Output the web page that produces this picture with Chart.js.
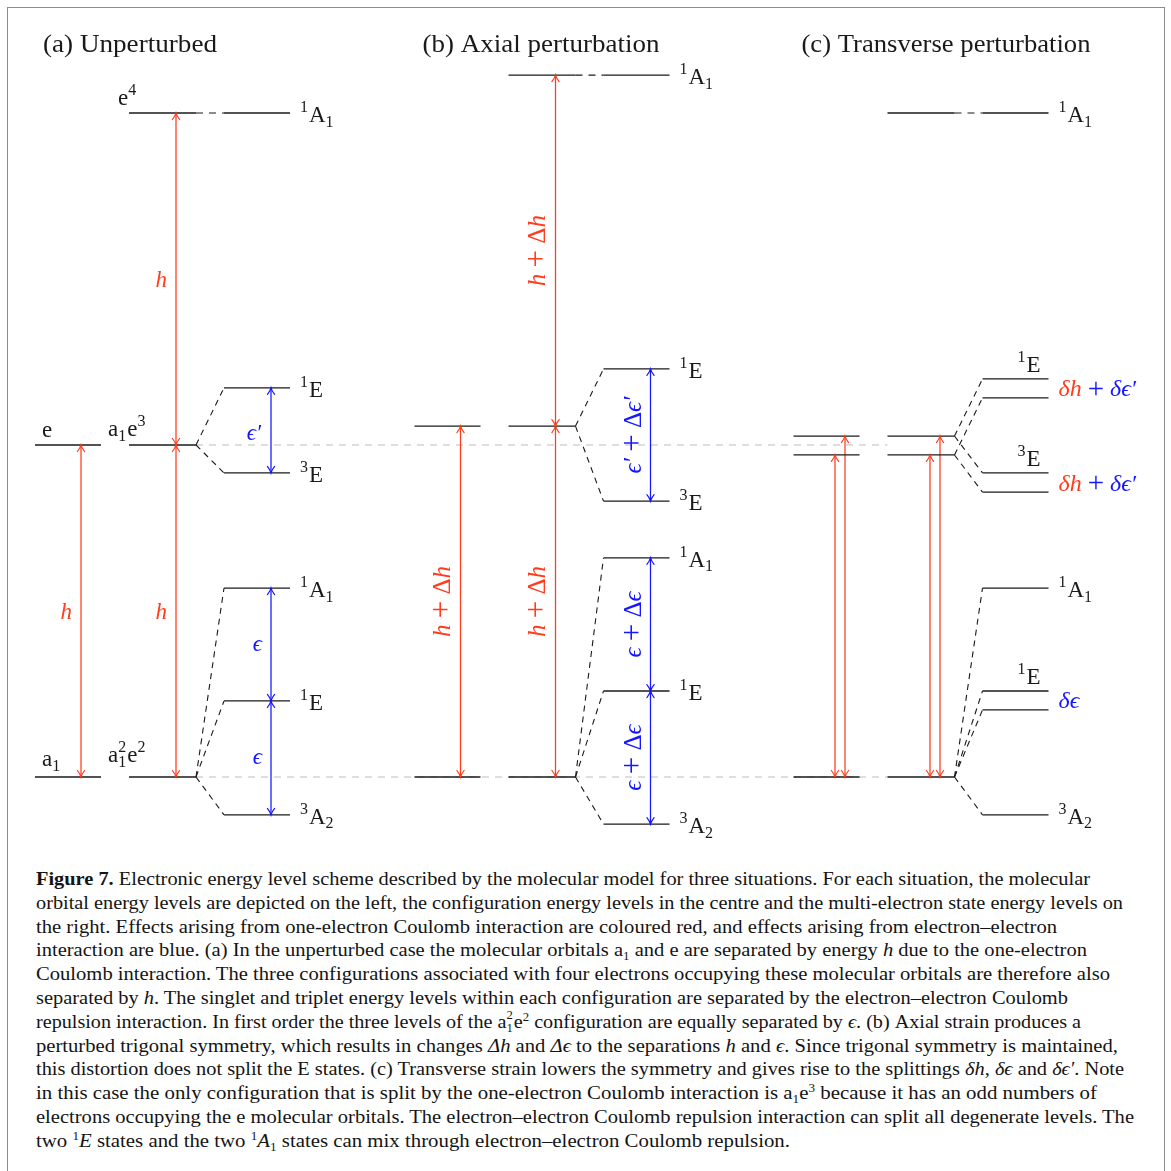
<!DOCTYPE html>
<html><head><meta charset="utf-8">
<script src="https://cdn.jsdelivr.net/npm/chart.js@4.4.1/dist/chart.umd.min.js"></script>
<style>
html,body{margin:0;padding:0;background:#fff;width:1171px;height:1171px;overflow:hidden;}
#frame{position:absolute;left:7px;top:7px;width:1158px;height:1200px;border:1.5px solid #8c8c8c;box-sizing:border-box;}
#c{position:absolute;left:0;top:0;}
#cap{position:absolute;left:36px;top:867px;font-family:'Liberation Serif',serif;font-size:19px;color:#141414;}
.ln{display:block;width:max-content;height:23.8px;line-height:23.8px;white-space:nowrap;transform-origin:0 0;}
.sb{font-size:12px;position:relative;top:4px;line-height:0;}
.sp{font-size:12px;position:relative;top:-7px;line-height:0;}
.ss{display:inline-block;position:relative;width:7px;height:10px;}
.ss .a{position:absolute;left:0;top:-9px;font-size:12px;line-height:12px;}
.ss .b{position:absolute;left:0;top:4px;font-size:12px;line-height:12px;}
</style></head>
<body>
<div id="frame"></div>
<canvas id="c" width="1171" height="860"></canvas>
<div id="cap">
<div class="ln" data-w="1054"><b>Figure 7.</b> Electronic energy level scheme described by the molecular model for three situations. For each situation, the molecular</div>
<div class="ln" data-w="1087">orbital energy levels are depicted on the left, the configuration energy levels in the centre and the multi-electron state energy levels on</div>
<div class="ln" data-w="1021">the right. Effects arising from one-electron Coulomb interaction are coloured red, and effects arising from electron–electron</div>
<div class="ln" data-w="1051">interaction are blue. (a) In the unperturbed case the molecular orbitals a<span class="sb">1</span> and e are separated by energy <i>h</i> due to the one-electron</div>
<div class="ln" data-w="1074">Coulomb interaction. The three configurations associated with four electrons occupying these molecular orbitals are therefore also</div>
<div class="ln" data-w="1032">separated by <i>h</i>. The singlet and triplet energy levels within each configuration are separated by the electron–electron Coulomb</div>
<div class="ln" data-w="1045">repulsion interaction. In first order the three levels of the a<span class="ss"><span class="a">2</span><span class="b">1</span></span>e<span class="sp">2</span> configuration are equally separated by <i>ϵ</i>. (b) Axial strain produces a</div>
<div class="ln" data-w="1082">perturbed trigonal symmetry, which results in changes <i>Δh</i> and <i>Δϵ</i> to the separations <i>h</i> and <i>ϵ</i>. Since trigonal symmetry is maintained,</div>
<div class="ln" data-w="1088">this distortion does not split the E states. (c) Transverse strain lowers the symmetry and gives rise to the splittings <i>δh</i>, <i>δϵ</i> and <i>δϵ′</i>. Note</div>
<div class="ln" data-w="1061">in this case the only configuration that is split by the one-electron Coulomb interaction is a<span class="sb">1</span>e<span class="sp">3</span> because it has an odd numbers of</div>
<div class="ln" data-w="1098">electrons occupying the e molecular orbitals. The electron–electron Coulomb repulsion interaction can split all degenerate levels. The</div>
<div class="ln" data-w="754">two <span class="sp">1</span><i>E</i> states and the two <span class="sp">1</span><i>A</i><span class="sb">1</span> states can mix through electron–electron Coulomb repulsion.</div>
</div>
<script>
// ---------------- data (energies in units of the unperturbed splitting h) ----------------
const panelTitles = ['(a) Unperturbed', '(b) Axial perturbation', '(c) Transverse perturbation'];
const orbitalA = [0, 1];
const orbitalB = [0, 1.057];
const orbitalC = [0, 0.970, 1.027];
const configA = [0, 1, 2];
const configB = [0, 1.057, 2.114];
const configC = [0, 0.970, 1.027, 2.0];
const stateA = [-0.114, 0.229, 0.569, 0.916, 1.172, 2.0];
const stateB = [-0.142, 0.259, 0.660, 0.831, 1.229, 2.114];
const stateC = [-0.114, 0.202, 0.259, 0.569, 0.858, 0.916, 1.142, 1.199, 2.0];
const parentA = [0, 0, 0, 1, 1, 2];
const parentB = [0, 0, 0, 1, 1, 2];
const parentC = [0, 0, 0, 0, 1, 2, 1, 2, 3];
const stateLabelsA = ['^3A_2', '^1E', '^1A_1', '^3E', '^1E', '^1A_1'];
const stateLabelsB = ['^3A_2', '^1E', '^1A_1', '^3E', '^1E', '^1A_1'];
const stateLabelsC = ['^3A_2', '', '', '^1A_1', '', '', '', '', '^1A_1'];
const pairsC = [[1, 2], [4, 5], [6, 7]];
const pairLabelsC = ['^1E', '^3E', '^1E'];
const orbitalLabelsA = ['a_1', 'e'];
const configLabelsA = ['a2e^2', 'a_1e^3', 'e^4'];

// ---------------- styling / layout ----------------
const RED = '#ff3c1c', BLUE = '#1616ff', BLACK = '#1a1a1a', GRAY = '#d4d4d4';
const SERIF = "'Liberation Serif','DejaVu Serif',serif";
const PX = [0, 379.5, 758.5];
const ORB = [35, 101], CFG = [129, 196], ST = [224, 290];
const TITLE_W = [174, 237, 289];

const datasets = [], arrows = [], labels = [];
function seg(x0, y0, x1, y1, color, w, dash, order) {
  datasets.push({data: [{x: x0, y: y0}, {x: x1, y: y1}], borderColor: color, borderWidth: w,
    borderDash: dash || [], showLine: true, pointRadius: 0, pointHoverRadius: 0, fill: false, tension: 0,
    order: order || 0});
}
function arrow(x, a, b, color) { seg(x, a, x, b, color, 1.25); arrows.push({x, a, b, color}); }
function parse(s) {
  const parts = []; let i = 0;
  while (i < s.length) {
    const ch = s[i];
    if (ch === '^' || ch === '_') { parts.push({t: s[i + 1], s: ch === '^' ? 'sup' : 'sub'}); i += 2; }
    else { let j = i; while (j < s.length && s[j] !== '^' && s[j] !== '_') j++; parts.push({t: s.slice(i, j)}); i = j; }
  }
  return parts;
}
function lab(x, y, parts, o) { labels.push(Object.assign({x, y, parts, size: 23, align: 'left', dy: 0, color: BLACK}, o || {})); }
const M = (t, c, it) => ({t, c, i: it});
const PLUS = c => [{t: ' ', c}, {t: '+', c, z: 1.22}, {t: ' ', c}];

// gray reference lines (drawn underneath everything)
[configA[1], configA[0]].forEach(e => seg(PX[0] + CFG[1], e, PX[2] + CFG[0], e, GRAY, 1.3, [7, 6], 10));

function levelsAndConnectors(ox, orbs, cfgs, states, parents) {
  orbs.forEach(e => seg(ox + ORB[0], e, ox + ORB[1], e, BLACK, 1.3));
  cfgs.forEach(e => seg(ox + CFG[0], e, ox + CFG[1], e, BLACK, 1.3));
  states.forEach((s, k) => {
    seg(ox + ST[0], s, ox + ST[1], s, BLACK, 1.3);
    const p = cfgs[parents[k]];
    seg(ox + CFG[1], p, ox + ST[0], s, BLACK, 1.1, Math.abs(p - s) < 1e-6 ? [7, 6] : [6, 5]);
  });
}
// ---- panel (a)
{
  const ox = PX[0];
  levelsAndConnectors(ox, orbitalA, configA, stateA, parentA);
  arrow(ox + 81, orbitalA[0], orbitalA[1], RED);
  arrow(ox + 176, configA[0], configA[1], RED);
  arrow(ox + 176, configA[1], configA[2], RED);
  arrow(ox + 271, stateA[3], stateA[4], BLUE);
  arrow(ox + 271, stateA[0], stateA[1], BLUE);
  arrow(ox + 271, stateA[1], stateA[2], BLUE);
  lab(ox + 72, (orbitalA[0] + orbitalA[1]) / 2, [M('h', RED, 1)], {align: 'right', dy: 8});
  lab(ox + 167, (configA[0] + configA[1]) / 2, [M('h', RED, 1)], {align: 'right', dy: 8});
  lab(ox + 167, (configA[1] + configA[2]) / 2, [M('h', RED, 1)], {align: 'right', dy: 8});
  lab(ox + 261, (stateA[3] + stateA[4]) / 2, [M('ϵ′', BLUE, 1)], {align: 'right', dy: 10});
  lab(ox + 262, (stateA[0] + stateA[1]) / 2, [M('ϵ', BLUE, 1)], {align: 'right', dy: 6});
  lab(ox + 262, (stateA[1] + stateA[2]) / 2, [M('ϵ', BLUE, 1)], {align: 'right', dy: 6});
  lab(ox + 42, orbitalA[0], parse(orbitalLabelsA[0]), {dy: -11});
  lab(ox + 42, orbitalA[1], parse(orbitalLabelsA[1]), {dy: -8});
  lab(ox + 118, configA[2], parse(configLabelsA[2]), {dy: -8});
  lab(ox + 108, configA[1], parse(configLabelsA[1]), {dy: -9});
  lab(ox + 108, configA[0], [{t: 'a'}, {t: '1', t2: '2', s: 'subsup'}, {t: 'e'}, {t: '2', s: 'sup'}], {dy: -15});
  stateA.forEach((s, k) => lab(ox + 300, s, parse(stateLabelsA[k]), {dy: 9}));
}
// ---- panel (b)
{
  const ox = PX[1];
  levelsAndConnectors(ox, orbitalB, configB, stateB, parentB);
  arrow(ox + 81, orbitalB[0], orbitalB[1], RED);
  arrow(ox + 176, configB[0], configB[1], RED);
  arrow(ox + 176, configB[1], configB[2], RED);
  arrow(ox + 271, stateB[3], stateB[4], BLUE);
  arrow(ox + 271, stateB[0], stateB[1], BLUE);
  arrow(ox + 271, stateB[1], stateB[2], BLUE);
  const hd = [M('h', RED, 1), ...PLUS(RED), M('Δ', RED), M('h', RED, 1)];
  const ed = [M('ϵ', BLUE, 1), ...PLUS(BLUE), M('Δ', BLUE), M('ϵ', BLUE, 1)];
  const edp = [M('ϵ′', BLUE, 1), ...PLUS(BLUE), M('Δ', BLUE), M('ϵ′', BLUE, 1)];
  lab(ox + 62, (orbitalB[0] + orbitalB[1]) / 2, hd, {rot: true, size: 25});
  lab(ox + 157, (configB[0] + configB[1]) / 2, hd, {rot: true, size: 25});
  lab(ox + 157, (configB[1] + configB[2]) / 2, hd, {rot: true, size: 25});
  lab(ox + 253, (stateB[3] + stateB[4]) / 2, edp, {rot: true, size: 25});
  lab(ox + 253, (stateB[0] + stateB[1]) / 2, ed, {rot: true, size: 25});
  lab(ox + 253, (stateB[1] + stateB[2]) / 2, ed, {rot: true, size: 25});
  stateB.forEach((s, k) => lab(ox + 300, s, parse(stateLabelsB[k]), {dy: 9}));
}
// ---- panel (c)
{
  const ox = PX[2];
  levelsAndConnectors(ox, orbitalC, configC, stateC, parentC);
  arrow(ox + 76.5, orbitalC[0], orbitalC[1], RED);
  arrow(ox + 86.5, orbitalC[0], orbitalC[2], RED);
  arrow(ox + 171.5, configC[0], configC[1], RED);
  arrow(ox + 181.5, configC[0], configC[2], RED);
  stateC.forEach((s, k) => { if (stateLabelsC[k]) lab(ox + 300, s, parse(stateLabelsC[k]), {dy: 9}); });
  pairsC.forEach((p, k) => lab(ox + 282, stateC[p[1]], parse(pairLabelsC[k]), {align: 'right', dy: -7}));
  const dhe = [M('δh', RED, 1), ...PLUS(BLUE), M('δϵ′', BLUE, 1)];
  lab(ox + 300, (stateC[1] + stateC[2]) / 2, [M('δϵ', BLUE, 1)], {dy: 8, size: 24});
  lab(ox + 300, (stateC[4] + stateC[5]) / 2, dhe, {dy: 8, size: 24});
  lab(ox + 300, (stateC[6] + stateC[7]) / 2, dhe, {dy: 8, size: 24});
}

// ---------------- drawing helpers ----------------
function fontFor(p, size) {
  let sz = (p.s === 'sup' || p.s === 'sub' || p.s === 'subsup') ? Math.round(size * 0.68) : size;
  if (p.z) sz = Math.round(sz * p.z);
  return (p.i ? 'italic ' : '') + sz + 'px ' + SERIF;
}
function partWidth(ctx, p, size) {
  ctx.font = fontFor(p, size);
  let w = ctx.measureText(p.t).width;
  if (p.s === 'subsup') w = Math.max(w, ctx.measureText(p.t2).width);
  return w + (p.s === 'sup' || p.s === 'sub' || p.s === 'subsup' ? 1 : 0);
}
function drawRich(ctx, parts, x, y, size, align, color) {
  let total = 0; parts.forEach(p => total += partWidth(ctx, p, size));
  let cx = align === 'right' ? x - total : align === 'center' ? x - total / 2 : x;
  ctx.textBaseline = 'alphabetic'; ctx.textAlign = 'left';
  parts.forEach(p => {
    ctx.font = fontFor(p, size); ctx.fillStyle = p.c || color;
    if (p.s === 'sup') ctx.fillText(p.t, cx, y - size * 0.42);
    else if (p.s === 'sub') ctx.fillText(p.t, cx, y + size * 0.2);
    else if (p.s === 'subsup') { ctx.fillText(p.t, cx, y + size * 0.22); ctx.fillText(p.t2, cx, y - size * 0.42); }
    else if (p.z) ctx.fillText(p.t, cx, y + size * (p.z - 1) * 0.3);
    else ctx.fillText(p.t, cx, y);
    cx += partWidth(ctx, p, size);
  });
}

const overlay = {
  id: 'overlay',
  afterDatasetsDraw(chart) {
    const ctx = chart.ctx, xs = chart.scales.x, ys = chart.scales.y;
    ctx.save();
    arrows.forEach(a => {
      const x = xs.getPixelForValue(a.x);
      [[a.a, a.b], [a.b, a.a]].forEach(([from, to]) => {
        const py = ys.getPixelForValue(to), dir = ys.getPixelForValue(from) > py ? 1 : -1;
        ctx.strokeStyle = a.color; ctx.lineWidth = 1.2; ctx.lineCap = 'round';
        ctx.beginPath();
        ctx.moveTo(x - 3.6, py + dir * 6.5);
        ctx.quadraticCurveTo(x - 0.8, py + dir * 3, x, py);
        ctx.quadraticCurveTo(x + 0.8, py + dir * 3, x + 3.6, py + dir * 6.5);
        ctx.stroke();
      });
    });
    ctx.fillStyle = BLACK;
    panelTitles.forEach((t, k) => {
      ctx.font = '25px ' + SERIF; ctx.textAlign = 'left'; ctx.textBaseline = 'alphabetic';
      const w = ctx.measureText(t).width, x = xs.getPixelForValue(PX[k] + 43);
      ctx.save(); ctx.translate(x, 52); ctx.scale(TITLE_W[k] / w, 1); ctx.fillText(t, 0, 0); ctx.restore();
    });
    labels.forEach(l => {
      const x = xs.getPixelForValue(l.x), y = ys.getPixelForValue(l.y);
      if (l.rot) {
        ctx.save(); ctx.translate(x, y); ctx.rotate(-Math.PI / 2);
        drawRich(ctx, l.parts, 0, l.size * 0.32, l.size, 'center', l.color);
        ctx.restore();
      } else drawRich(ctx, l.parts, x, y + l.dy, l.size, l.align, l.color);
    });
    ctx.restore();
  }
};

new Chart(document.getElementById('c'), {
  type: 'scatter',
  data: {datasets},
  options: {
    responsive: false, animation: false, devicePixelRatio: 1,
    layout: {padding: 0},
    plugins: {legend: {display: false}, tooltip: {enabled: false}},
    scales: {
      x: {type: 'linear', min: 0, max: 1171, display: false},
      y: {type: 'linear', min: -83 / 332, max: 777 / 332, display: false}
    }
  },
  plugins: [overlay]
});

// fit caption lines to their measured widths in the reference
document.querySelectorAll('.ln').forEach(el => {
  const w = el.getBoundingClientRect().width, target = +el.dataset.w;
  el.style.transform = 'scaleX(' + (target / w).toFixed(4) + ')';
});
</script>
</body></html>
